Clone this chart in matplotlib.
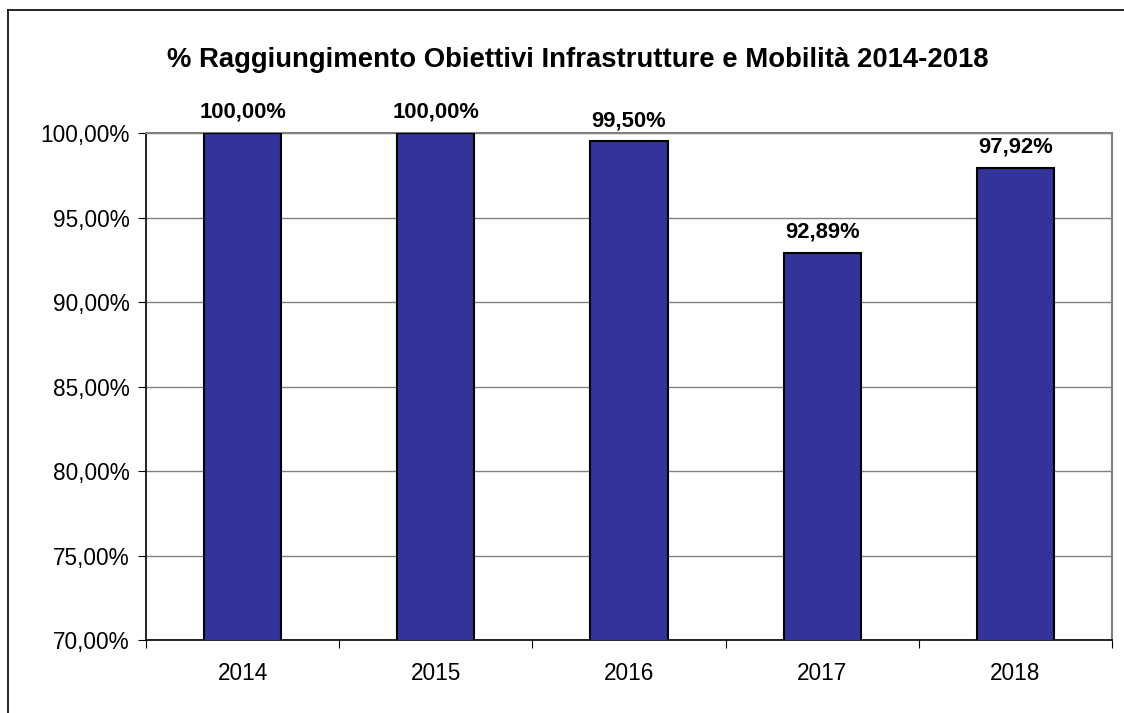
#bar chart of yearly objectives
import matplotlib.pyplot as plt
from matplotlib.lines import Line2D

years = ['2014', '2015', '2016', '2017', '2018']
values = [100.00, 100.00, 99.50, 92.89, 97.92]
yticks = [70, 75, 80, 85, 90, 95, 100]

plt.rcParams['font.family'] = ['Liberation Sans', 'DejaVu Sans']

fig = plt.figure(figsize=(11.24, 7.13), dpi=100)
ax = fig.add_axes([146 / 1124, 1 - 640 / 713, (1112 - 146) / 1124, (640 - 133) / 713])

#outer frame (cut at right and bottom)
fig.add_artist(Line2D([8 / 1124, 8 / 1124], [0, 1 - 10 / 713], transform=fig.transFigure,
                      color='black', linewidth=1.2))
fig.add_artist(Line2D([8 / 1124, 1], [1 - 10 / 713, 1 - 10 / 713], transform=fig.transFigure,
                      color='black', linewidth=1.2))

x = list(range(len(years)))
ax.bar(x, values, width=0.4, color='#333399', edgecolor='black', linewidth=1.5, zorder=3)

for xi, v in zip(x, values):
    label = f'{v:.2f}%'.replace('.', ',')
    ax.annotate(label, (xi, v), xytext=(0, 7.5), textcoords='offset points',
                ha='center', va='bottom', fontsize=15.8, fontweight='bold', annotation_clip=False)

ax.set_xlim(-0.5, len(years) - 0.5)
ax.set_ylim(70, 100)
ax.set_yticks(yticks)
ax.set_yticklabels([f'{t:.2f}%'.replace('.', ',') for t in yticks], fontsize=16.3)
ax.yaxis.grid(True, color='#808080', linewidth=1, zorder=0)

#year labels between boundary ticks
ax.set_xticks([i - 0.5 for i in range(len(years) + 1)])
ax.set_xticklabels([])
ax.set_xticks(x, minor=True)
ax.set_xticklabels(years, minor=True, fontsize=16.3)
ax.tick_params(axis='x', which='minor', length=0, pad=16)
ax.tick_params(axis='x', which='major', length=6, direction='out', color='black')
ax.tick_params(axis='y', length=6, direction='out', color='black', pad=6)

ax.spines['top'].set_color('#808080')
ax.spines['right'].set_color('#808080')
ax.spines['top'].set_linewidth(1.5)
ax.spines['right'].set_linewidth(1.5)
ax.spines['left'].set_linewidth(1.2)
ax.spines['bottom'].set_linewidth(1.2)

fig.text(578 / 1124, 1 - 60 / 713, '% Raggiungimento Obiettivi Infrastrutture e Mobilità 2014-2018',
         ha='center', va='center', fontsize=19.8, fontweight='bold')

fig.savefig('out.png', dpi=100)
